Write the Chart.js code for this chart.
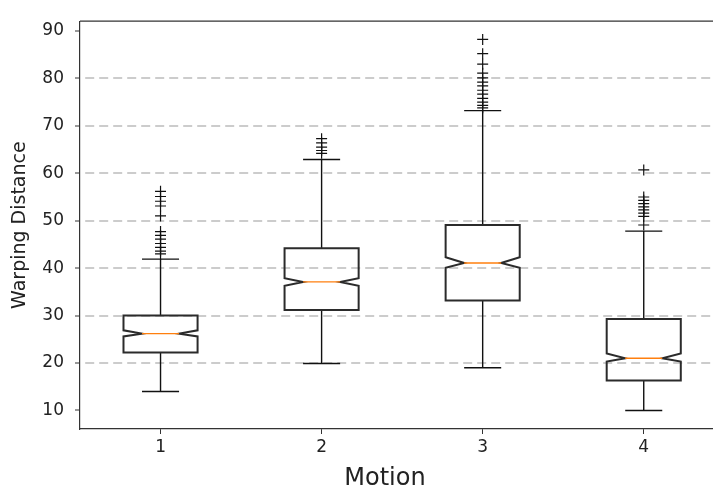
<!DOCTYPE html>
<html>
<head>
<meta charset="utf-8">
<script src="https://cdn.jsdelivr.net/npm/chart.js@4"></script>
<style>
  html, body { margin: 0; padding: 0; background: #fff; overflow: hidden; }
  #wrap { width: 713px; height: 491px; }
</style>
</head>
<body>
<div id="wrap"><canvas id="chartCanvas"></canvas></div>
<script>
const categories = ["1", "2", "3", "4"];
const yTicks = [10, 20, 30, 40, 50, 60, 70, 80, 90];
const xTitle = "Motion";
const yTitle = "Warping Distance";

// box statistics
const q1 = [22.2, 31.2, 33.2, 16.3];
const q3 = [30.0, 44.2, 49.1, 29.3];
const medians = [26.2, 37.1, 41.1, 21.0];
const notchLo = [25.6, 36.3, 40.1, 20.3];
const notchHi = [26.9, 37.9, 42.3, 22.0];
const whiskerLo = [14.0, 19.9, 19.0, 10.0];
const whiskerHi = [41.9, 62.9, 73.2, 47.8];

const fliers1 = [43.0, 43.6, 44.4, 45.2, 46.1, 46.9, 47.7, 51.0, 53.1, 54.1, 55.1, 56.2];
const fliers2 = [64.2, 64.8, 65.5, 66.4, 67.3];
const fliers3 = [73.8, 74.3, 75.0, 75.8, 76.7, 77.5, 78.4, 79.2, 80.1, 81.1, 83.0, 85.2, 88.2];
const fliers4 = [49.1, 50.9, 51.6, 52.3, 52.9, 53.6, 54.3, 55.0, 60.7];
const fliers = [fliers1, fliers2, fliers3, fliers4];

const boxWidth = 0.46;

const flierPoints = [];
fliers.forEach((list, i) => {
  list.forEach(v => flierPoints.push({ x: i + 1, y: v }));
});

const boxPlugin = {
  id: "boxes",
  afterDatasetsDraw(chart) {
    const { ctx, scales: { x, y } } = chart;
    ctx.save();
    categories.forEach((c, i) => {
      const xc = x.getPixelForValue(i + 1);
      const hw = x.getPixelForValue(i + 1 + boxWidth / 2) - xc;
      const cap = hw / 2;
      const py = v => y.getPixelForValue(v);

      // whiskers and caps
      ctx.strokeStyle = "#111";
      ctx.lineWidth = 1.4;
      ctx.beginPath();
      ctx.moveTo(xc, py(q3[i]));
      ctx.lineTo(xc, py(whiskerHi[i]));
      ctx.moveTo(xc - cap, py(whiskerHi[i]));
      ctx.lineTo(xc + cap, py(whiskerHi[i]));
      ctx.moveTo(xc, py(q1[i]));
      ctx.lineTo(xc, py(whiskerLo[i]));
      ctx.moveTo(xc - cap, py(whiskerLo[i]));
      ctx.lineTo(xc + cap, py(whiskerLo[i]));
      ctx.stroke();

      // notched box
      ctx.strokeStyle = "#2b2b2b";
      ctx.lineWidth = 2;
      ctx.beginPath();
      ctx.moveTo(xc - hw, py(q1[i]));
      ctx.lineTo(xc + hw, py(q1[i]));
      ctx.lineTo(xc + hw, py(notchLo[i]));
      ctx.lineTo(xc + cap, py(medians[i]));
      ctx.lineTo(xc + hw, py(notchHi[i]));
      ctx.lineTo(xc + hw, py(q3[i]));
      ctx.lineTo(xc - hw, py(q3[i]));
      ctx.lineTo(xc - hw, py(notchHi[i]));
      ctx.lineTo(xc - cap, py(medians[i]));
      ctx.lineTo(xc - hw, py(notchLo[i]));
      ctx.closePath();
      ctx.stroke();

      // median
      ctx.strokeStyle = "#ff7f0e";
      ctx.lineWidth = 1.4;
      ctx.beginPath();
      ctx.moveTo(xc - cap, py(medians[i]));
      ctx.lineTo(xc + cap, py(medians[i]));
      ctx.stroke();
    });

    // top spine
    const a = chart.chartArea;
    ctx.strokeStyle = "#333";
    ctx.lineWidth = 1.2;
    ctx.beginPath();
    ctx.moveTo(a.left, a.top);
    ctx.lineTo(a.right, a.top);
    ctx.stroke();

    // x axis title
    ctx.fillStyle = "#222";
    ctx.font = "24px 'DejaVu Sans'";
    ctx.textAlign = "center";
    ctx.textBaseline = "alphabetic";
    ctx.fillText(xTitle, 385, 485);
    ctx.restore();
  }
};

const chart = new Chart(chartCanvas, {
  type: "scatter",
  data: {
    datasets: [{
      label: "fliers",
      data: flierPoints,
      pointStyle: "cross",
      pointRadius: 5.5,
      pointBorderWidth: 1.2,
      borderColor: "#111",
      backgroundColor: "#111"
    }]
  },
  options: {
    responsive: true,
    maintainAspectRatio: false,
    animation: false,
    layout: { autoPadding: false, padding: { top: 10, right: 0, bottom: 0, left: 0 } },
    plugins: {
      legend: { display: false },
      tooltip: { enabled: false }
    },
    scales: {
      x: {
        type: "linear",
        min: 0.5,
        max: 4.43,
        afterBuildTicks: s => { s.ticks = categories.map((c, i) => ({ value: i + 1 })); },
        afterFit: s => { s.height = 62; },
        ticks: {
          callback: v => categories[v - 1],
          color: "#222",
          font: { family: "DejaVu Sans", size: 17 },
          padding: 3,
          maxRotation: 0
        },
        grid: {
          drawOnChartArea: false,
          drawTicks: true,
          tickLength: 5,
          tickColor: "#333"
        },
        border: { color: "#333", width: 1.2 }
      },
      y: {
        min: 6.1,
        max: 92.05,
        afterBuildTicks: s => { s.ticks = yTicks.map(v => ({ value: v })); },
        afterFit: s => { s.width = 80; },
        ticks: {
          color: "#222",
          font: { family: "DejaVu Sans", size: 17 },
          padding: 11
        },
        grid: {
          color: c => (c.tick && c.tick.value > 10 && c.tick.value < 90) ? "#cccccc" : "rgba(0,0,0,0)",
          lineWidth: 2,
          drawTicks: true,
          tickLength: 5,
          tickColor: "#333",
          tickWidth: 1
        },
        border: { color: "#333", width: 1.2, dash: [9, 5], dashOffset: 9 },
        title: {
          display: true,
          text: yTitle,
          color: "#222",
          font: { family: "DejaVu Sans", size: 19 },
          padding: { top: 9, bottom: 0 }
        }
      }
    }
  },
  plugins: [boxPlugin]
});
</script>
</body>
</html>
